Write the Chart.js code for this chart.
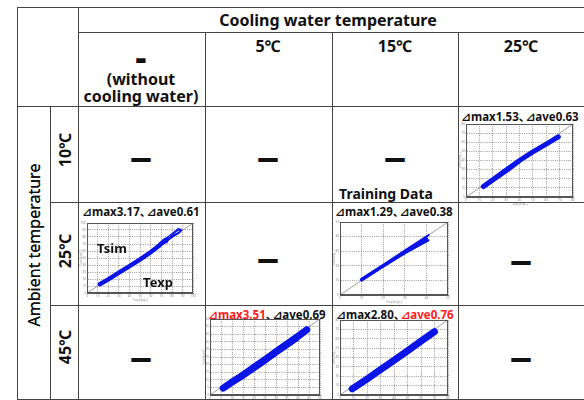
<!DOCTYPE html>
<html><head><meta charset="utf-8">
<script src="https://cdn.jsdelivr.net/npm/chart.js@4.4.0/dist/chart.umd.min.js"></script>
<style>
html,body{margin:0;padding:0;background:#fff;}
#root{position:relative;width:584px;height:400px;overflow:hidden;background:#fff;font-family:'Noto Sans','Noto Sans CJK JP',sans-serif;color:#111;}
.h{position:absolute;height:1px;background:#444;}
.v{position:absolute;width:1px;background:#444;}
.t{position:absolute;white-space:nowrap;transform:translate(-50%,-50%);font-weight:bold;line-height:1;}
.ct{font-family:'Noto Sans','DejaVu Sans','Noto Sans CJK JP',sans-serif;}
.cm{display:inline-block;width:7px;overflow:visible;}
canvas{position:absolute;}
</style></head><body><div id="root"></div>
<script>
// ---------- table labels ----------
const headerTitle = 'Cooling water temperature';
const coolingCols = ['5℃', '15℃', '25℃'];
const noCoolingLabel = ['(without', 'cooling water)'];
const rowTitle = 'Ambient temperature';
const ambientRows = ['10℃', '25℃', '45℃'];

// ---------- chart titles (max / average error); [text, isRed] ----------
const titleA = [['⊿max1.53',0],['、',0],['⊿ave0.63',0]];
const titleB = [['⊿max3.17',0],['、',0],['⊿ave0.61',0]];
const titleC = [['⊿max1.29',0],['、',0],['⊿ave0.38',0]];
const titleD = [['⊿max3.51',1],['、',0],['⊿ave0.69',0]];
const titleE = [['⊿max2.80',0],['、',0],['⊿ave0.76',1]];

// ---------- scatter data: [Texp, Tsim] ----------
// A: ambient 10, cooling 25  (axis 0-80)
const bandA_main = [[13,11.5],[20,19],[30,29.5],[40,40],[50,49.5],[60,58],[69,66]];
const bandA_edge = [[13,10.5],[22,19.5],[32,29.5],[40,38.5]];
// B: ambient 25, no cooling (axis 0-100)
const bandB_main = [[12,12.5],[20,19.5],[30,29],[40,38.5],[50,48],[60,58.5],[68,68],[74,76]];
const bandB_fan1 = [[58,57],[66,67],[72,74],[78,80],[84,88],[88,91],[87,86],[80,80],[72,71],[64,62]];
const bandB_fan2 = [[62,61],[70,70],[76,77],[82,83],[86,86]];
const bandB_fan3 = [[60,60],[70,73],[80,85],[86,92],[89,90],[88,88],[82,82],[72,71],[62,60]];
const bandB_loop = [[68,71],[72,76],[77,77],[75,72],[68,71]];
// C: ambient 25, cooling 15 (axis 0-50, training data)
const bandC_main = [[10,10.5],[20,20],[30,29.5],[40,38.5]];
const bandC_up = [[10,11],[20,20.5],[30,30.5],[41,41]];
const bandC_low = [[10,10],[20,19.5],[30,28.5],[41,37.5]];
// D: ambient 45, cooling 5 (axis 0-50)
const bandD_main = [[6,4.5],[10,8.5],[15,13],[20,18],[25,23],[30,28.5],[35,33.5],[40,38.5],[44,43]];
const bandD_up = [[8,7.5],[20,20],[30,30],[42,42.5]];
const bandD_low = [[10,7],[20,16.5],[30,26.5],[40,36.5]];
// E: ambient 45, cooling 15 (axis 0-80)
const bandE_main = [[9,6.5],[20,17],[30,27],[40,37],[50,47],[60,57.5],[70,67.5]];
const bandE_up = [[10,9],[25,24],[40,39.5],[55,54.5],[70,69]];
const bandE_low = [[12,8],[25,20.5],[40,35],[55,50.5],[68,63]];

const axisX = 'Texp[degC]';
const axisY = 'Tsim[degC]';

const root = document.getElementById('root');
function hl(x1,x2,y){const d=document.createElement('div');d.className='h';d.style.left=x1+'px';d.style.width=(x2-x1)+'px';d.style.top=y+'px';root.appendChild(d);}
function vl(x,y1,y2){const d=document.createElement('div');d.className='v';d.style.left=x+'px';d.style.top=y1+'px';d.style.height=(y2-y1)+'px';root.appendChild(d);}
function tx(s,x,y,size,extra){const d=document.createElement('div');d.className='t';d.textContent=s;d.style.left=x+'px';d.style.top=y+'px';d.style.fontSize=size+'px';if(extra){for(const k in extra)d.style[k]=extra[k];}root.appendChild(d);return d;}
function chartTitle(parts,x,y,size){const d=document.createElement('div');d.className='t ct';d.style.left=x+'px';d.style.top=y+'px';d.style.fontSize=size+'px';
  parts.forEach(p=>{const s=document.createElement('span');s.textContent=p[0];s.style.color=p[1]?'#ff1a1a':'#111';if(p[0]==='、')s.className='cm';d.appendChild(s);});root.appendChild(d);}

// grid lines of the table
hl(17,584,7); hl(78,584,32); hl(17,584,106); hl(50,584,202); hl(50,584,305); hl(17,584,399);
vl(17,7,400); vl(50,106,400); vl(78,7,400); vl(205,32,400); vl(332,32,400); vl(458,32,400);

// headers
tx(headerTitle,328,20,16);
tx(coolingCols[0],268,46,16); tx(coolingCols[1],395,46,16); tx(coolingCols[2],521,46,16);
tx('-',141,57,16,{transform:'translate(-50%,-50%) scale(2.2,2.4)'});
tx(noCoolingLabel[0],141,79,16); tx(noCoolingLabel[1],141,96,16);
tx(rowTitle,34,245,16,{fontWeight:'normal',transform:'translate(-50%,-50%) rotate(-90deg)',textShadow:'0 0.35px 0 #111'});
tx(ambientRows[0],65,150,16,{transform:'translate(-50%,-50%) rotate(-90deg)'});
tx(ambientRows[1],65,251,16,{transform:'translate(-50%,-50%) rotate(-90deg)'});
tx(ambientRows[2],65,347,16,{transform:'translate(-50%,-50%) rotate(-90deg)'});

// empty-cell dashes
const dashStyle={transform:'translate(-50%,-50%) scale(1,1.7)'};
[[141,157],[268,157],[395,157],[268,258],[521,260],[141,357],[521,357]].forEach(p=>tx('—',p[0],p[1],21,dashStyle));

tx('Training Data',386,194,14);

// chart titles
chartTitle(titleA,520,117,11.5);
chartTitle(titleB,141,212,11.5);
chartTitle(titleC,394,212,11.5);
chartTitle(titleD,267,315,11.5);
chartTitle(titleE,395,315,11.5);

Chart.defaults.font.family = "'Noto Sans','DejaVu Sans',sans-serif";
const framePlugin = {id:'frame', afterDatasetsDraw(chart){const a=chart.chartArea,ctx=chart.ctx;ctx.save();ctx.strokeStyle='#555';ctx.lineWidth=1;ctx.strokeRect(Math.round(a.left)+0.5,Math.round(a.top)+0.5,Math.round(a.right-a.left)-1,Math.round(a.bottom-a.top)-1);ctx.restore();}};

const BLUE='#0a14e6';
function band(data,w,color){return {data:data.map(p=>({x:p[0],y:p[1]})),showLine:true,borderColor:color||BLUE,borderWidth:w,pointRadius:0,borderCapStyle:'round',borderJoinStyle:'round'};}

function makeChart(left,top,w,h,range,step,sets){
  const PADL=8,PADB=9,PADT=5,PADR=3;
  const W=w+PADL+PADR,H=h+PADT+PADB;
  const c=document.createElement('canvas');
  c.width=W;c.height=H;c.style.left=(left-PADL)+'px';c.style.top=(top-PADT)+'px';c.style.width=W+'px';c.style.height=H+'px';
  root.appendChild(c);
  const diag={data:[{x:0,y:0},{x:range,y:range}],showLine:true,borderColor:'#8a8a8a',borderWidth:0.8,pointRadius:0};
  const axis=(isX)=>({type:'linear',min:0,max:range,
      ticks:{stepSize:step,font:{size:3},color:'#888',padding:1,maxRotation:0,autoSkip:false},
      grid:{color:'#6f6f6f',lineWidth:0.7,drawTicks:false},
      border:{display:true,dash:[1,1.2],color:'#555'},
      title:{display:true,text:isX?axisX:axisY,font:{size:3},padding:0,color:'#999'},
      afterFit(s){ if(isX) s.height=PADB; else s.width=PADL; }});
  new Chart(c,{type:'scatter',data:{datasets:[...sets,diag]},
    options:{responsive:false,animation:false,devicePixelRatio:1,
      layout:{padding:{top:PADT,right:PADR,left:0,bottom:0}},
      plugins:{legend:{display:false},tooltip:{enabled:false}},
      scales:{x:axis(true),y:axis(false)}},
    plugins:[framePlugin]});
}

makeChart(466,124,107,73,80,10,[band(bandA_main,5),band(bandA_edge,3)]);
makeChart(87,223,107,70,100,10,[band(bandB_main,4.5),band(bandB_fan1,1.3),band(bandB_fan2,1.3),band(bandB_fan3,1.3),band(bandB_loop,1.3)]);
makeChart(340,222,108,73,50,10,[band(bandC_main,3.5),band(bandC_up,2),band(bandC_low,2)]);
makeChart(210,319,110,76,50,5,[band(bandD_main,7),band(bandD_up,2.5),band(bandD_low,2.5)]);
makeChart(340,320,108,75,80,10,[band(bandE_main,7),band(bandE_up,2.5),band(bandE_low,2.5)]);

tx('Tsim',112,248,13);
tx('Texp',158,282,13);
</script>
</body></html>
